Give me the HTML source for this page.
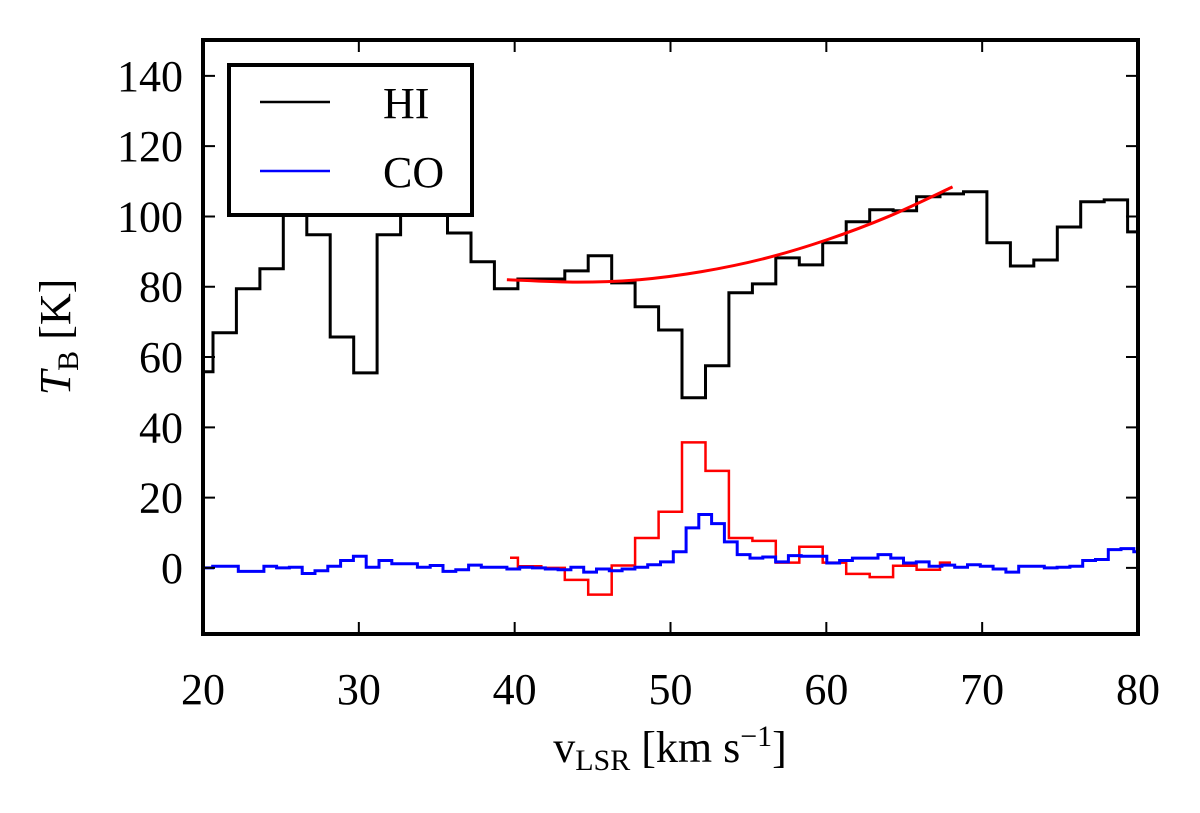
<!DOCTYPE html>
<html><head><meta charset="utf-8"><style>
html,body{margin:0;padding:0;background:#fff;}
svg{display:block;font-family:"Liberation Serif",serif;}
</style></head><body>
<svg id="chart" width="1200" height="813" viewBox="0 0 1200 813">
<defs><clipPath id="plotclip"><rect x="203" y="40" width="935" height="594"/></clipPath></defs>
<g id="marks" clip-path="url(#plotclip)"></g>
<g id="axes"></g>
</svg>
<script>
// ---- data ----
const xTicks = [20, 30, 40, 50, 60, 70, 80];
const yTicks = [0, 20, 40, 60, 80, 100, 120, 140];
const hiStart = 19.135;
const hiWidth = 1.505;
const hiValues = [55.8, 66.9, 79.4, 85.1, 104, 94.8, 65.7, 55.5, 94.8, 105, 103, 95.3, 87.1, 79.4, 82.2, 82.2, 84.5, 88.8, 81.1, 74.3, 67.7, 48.4, 57.5, 78.3, 80.8, 88.2, 86.2, 92.5, 98.5, 101.9, 101.6, 105.6, 106.4, 107, 92.5, 85.9, 87.6, 97, 104.2, 104.7, 95.6];
const redStartV = 39.7;
const redFirstBin = 13;
const redValues = [2.9, 0.5, 0, -3.4, -7.6, 0.7, 8.5, 16, 35.7, 27.6, 8.5, 7.7, 1.5, 6, 1.5, -1.7, -2.6, 0.6, -0.5, 1.5];
const redEndV = 68.0;
const coStart = 19.8;
const coWidth = 0.821;
const coValues = [0,.5,.5,-1,-1,.5,0,.2,-1.6,-.8, .5,2.1,3.3,.2,2.1,1.2,1.2,.2,.7,-1, -.5,.8,.2,.2,-.3,.2,0,-.3,-.5,.2, -1.2,-.3,-.8,-.3,.2,.9,1.7,4.6,11.4,15.2, 12.6,7.4,3.8,2.8,3.1,1.7,3.5,3.3,3.3,1.4, 2.1,2.8,2.8,3.8,2.8,1.4,1.7,.5,.8,.2, .9,.5,-.3,-1.2,.5,.5,0,.2,.5,2.1, 2.4,5.2,5.5,4.6,3.8];
const fitV = [39.5, 44, 48, 52, 56, 60, 64, 68.1];
const fitT = [82, 81.3, 82, 84.3, 88, 93.3, 100, 108.4];

// ---- scales ----
const X0=203, X1=1138, Y0=634, Y1=40, VMIN=20, VMAX=80, TMIN=-18.8, TMAX=150.2;
function sx(v){return X0+(v-VMIN)/(VMAX-VMIN)*(X1-X0);}
function sy(t){return Y0-(t-TMIN)/(TMAX-TMIN)*(Y0-Y1);}
const NS="http://www.w3.org/2000/svg";
const marks=document.getElementById('marks'), axes=document.getElementById('axes');
function mk(tag,attrs,parent){const e=document.createElementNS(NS,tag);for(const k in attrs)e.setAttribute(k,attrs[k]);parent.appendChild(e);return e;}

function stepPath(start,width,vals,firstV,lastV){
  let d='';
  vals.forEach((val,i)=>{
    let a=start+i*width, b=a+width;
    if(firstV!==undefined&&i===0)a=firstV;
    if(lastV!==undefined&&i===vals.length-1)b=lastV;
    d+=(i===0?'M':'L')+sx(a).toFixed(1)+','+sy(val).toFixed(1)+'L'+sx(b).toFixed(1)+','+sy(val).toFixed(1);
  });
  return d;
}
let p=mk('path',{d:stepPath(hiStart,hiWidth,hiValues),fill:'none',stroke:'#000','stroke-width':3},marks);


p=mk('path',{d:stepPath(hiStart+redFirstBin*hiWidth,hiWidth,redValues,redStartV,redEndV),fill:'none',stroke:'#ff0000','stroke-width':2.5},marks);


p=mk('path',{d:stepPath(coStart,coWidth,coValues),fill:'none',stroke:'#0000ff','stroke-width':3},marks);


let fd='';
for(let i=0;i<fitV.length;i++){
  const x=sx(fitV[i]),y=sy(fitT[i]);
  if(i===0){fd+='M'+x+','+y;continue;}
  const xp=sx(fitV[i-1]),yp=sy(fitT[i-1]);
  const xm=sx(fitV[Math.max(i-2,0)]),ym=sy(fitT[Math.max(i-2,0)]);
  const xn=sx(fitV[Math.min(i+1,fitV.length-1)]),yn=sy(fitT[Math.min(i+1,fitV.length-1)]);
  fd+='C'+(xp+(x-xm)/6)+','+(yp+(y-ym)/6)+' '+(x-(xn-xp)/6)+','+(y-(yn-yp)/6)+' '+x+','+y;
}
p=mk('path',{d:fd,fill:'none',stroke:'#ff0000','stroke-width':3},marks);



// ---- axes ----
let fr=mk('rect',{x:X0,y:Y1,width:X1-X0,height:Y0-Y1,fill:'none',stroke:'#000','stroke-width':4},axes);


xTicks.forEach(v=>{
  const x=sx(v);
  let t=mk('path',{d:`M${x},${Y0}v-12M${x},${Y1}v12`,stroke:'#000','stroke-width':2},axes);
  
  
  let l=mk('text',{x:x,y:704,'text-anchor':'middle','font-size':44},axes);l.textContent=v;
  
  
});
yTicks.forEach(v=>{
  const y=sy(v);
  let t=mk('path',{d:`M${X0},${y}h12M${X1},${y}h-12`,stroke:'#000','stroke-width':2},axes);
  
  
  let l=mk('text',{x:183,y:y+15,'text-anchor':'end','font-size':44},axes);l.textContent=v;
  
  
});
</script>
<svg style="position:absolute;left:0;top:0" width="1200" height="813">
<g font-family="Liberation Serif, serif">
<text x="670" y="762" text-anchor="middle" font-size="44">v<tspan font-size="30" dy="8">LSR</tspan><tspan dy="-8"> [km s</tspan><tspan font-size="30" dy="-16">−1</tspan><tspan dy="16">]</tspan></text>
<g transform="translate(70,337) rotate(-90)">
<text x="0" y="0" text-anchor="middle" font-size="44"><tspan font-style="italic">T</tspan><tspan font-size="30" dy="8">B</tspan><tspan dy="-8"> [K]</tspan></text>
</g>
<g>
<rect x="229" y="65" width="243" height="150" fill="#fff" stroke="#000" stroke-width="4"/>
<line x1="260" y1="102" x2="330" y2="102" stroke="#000" stroke-width="2.5"/>
<text x="383" y="118" font-size="44">HI</text>
<line x1="260" y1="171" x2="330" y2="171" stroke="#0000ff" stroke-width="2.5"/>
<text x="383" y="187" font-size="44">CO</text>
</g>
</g>
</svg>
</body></html>
